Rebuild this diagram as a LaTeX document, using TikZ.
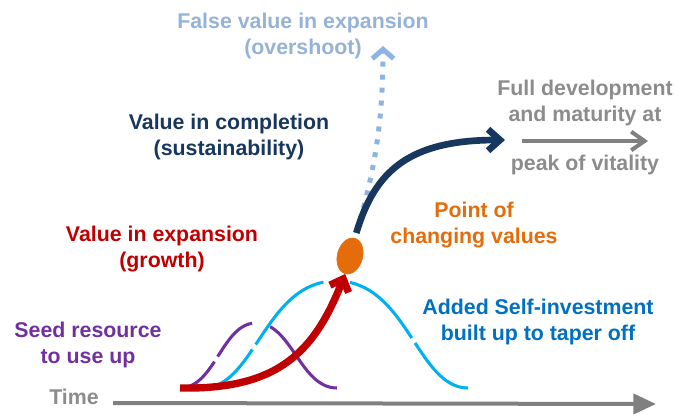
\documentclass[tikz,border=0pt]{standalone}
\usepackage{fontspec}
\setmainfont{Liberation Sans}
\usetikzlibrary{arrows.meta,shapes.geometric}
\definecolor{cRed}{HTML}{C00000}
\definecolor{cNavy}{HTML}{17375E}
\definecolor{cLBlue}{HTML}{8DB4E2}
\definecolor{cLBlueT}{HTML}{95B3D7}
\definecolor{cGray}{HTML}{808080}
\definecolor{cGrayT}{HTML}{8C8C8C}
\definecolor{cOrange}{HTML}{E46C0A}
\definecolor{cPurple}{HTML}{7030A0}
\definecolor{cCyan}{HTML}{00B0F0}
\definecolor{cBlueT}{HTML}{0070C0}
\begin{document}
\begin{tikzpicture}[x=0.75pt,y=-0.75pt,
  lbl/.style={font=\fontsize{16}{19.5}\selectfont\bfseries, align=center, inner sep=0pt},
  bell/.style={line width=2.3pt},
  bigarrow/.style={line width=5pt, -{Straight Barb[length=9pt,width=16pt]}}
]
\useasboundingbox (0,0) rectangle (674,417);

% texts
\node[lbl, text=cLBlueT] (false) at (303,36) {False value in expansion\\(overshoot)};
\node[lbl, text=cNavy] (compl) at (229,137) {Value in completion\\(sustainability)};
\node[lbl, text=cGrayT] (full) at (585,103) {Full development\\and maturity at};
\node[lbl, text=cGrayT] (peak) at (585,165) {peak of vitality};
\node[lbl, text=cOrange] (point) at (474,225) {Point of\\changing values};
\node[lbl, text=cRed] (expan) at (162,249) {Value in expansion\\(growth)};
\node[lbl, text=cBlueT] (added) at (538,322) {Added Self-investment\\built up to taper off};
\node[lbl, text=cPurple] (seed) at (88,345) {Seed resource\\to use up};
\node[lbl, text=cGrayT] (time) at (74,397) {Time};

% time axis
\coordinate (t0) at (113,403);
\coordinate (t1) at (656,404);
\draw[cGray, line width=3pt, -{Triangle[length=17pt,width=15pt]}] (t0) -- (t1);

% seed resource curve (purple)
\draw[cPurple, bell, dash pattern=on 34pt off 4.5pt on 37pt off 14pt on 100pt]
  (180,388) .. controls (215,388) and (222,323) .. (256,323)
  .. controls (292,323) and (300,388) .. (337,388);

% self-investment curve (cyan)
\draw[cCyan, bell, dash pattern=on 49pt off 4.5pt on 71pt off 20pt on 64pt off 4.5pt on 80pt]
  (203,388) .. controls (255,388) and (265,281) .. (336,281)
  .. controls (407,281) and (417,388) .. (468,388);

% point of changing values
\node[ellipse, fill=cOrange, draw=cOrange, inner sep=0pt, minimum width=19pt, minimum height=27.5pt, rotate=-15] (dot) at (350,256) {};

% growth arrow
\coordinate (origin) at (180,388);
\draw[cRed, line width=5.5pt, -{Straight Barb[length=8pt,width=15pt]}]
  (origin) .. controls (280,390) and (315,350) .. (dot.south);

% overshoot dotted arrow
\coordinate (over) at (383,46);
\draw[cLBlue, line width=3.75pt, dash pattern=on 3.75pt off 6pt, shorten <=4pt,
  -{Straight Barb[length=7pt,width=16pt]}]
  (dot.north) .. controls (372,180) and (383,130) .. (over);

% completion arrow
\coordinate (full0) at (505,140);
\draw[cNavy, bigarrow, shorten <=4pt] (dot.north) .. controls (375,170) and (410,140) .. (full0);

% maturity arrow
\coordinate (m0) at (522,141);
\coordinate (m1) at (648,141);
\draw[cGray, line width=3pt, -{Straight Barb[length=10pt,width=14pt]}] (m0) -- (m1);
\end{tikzpicture}
\end{document}
